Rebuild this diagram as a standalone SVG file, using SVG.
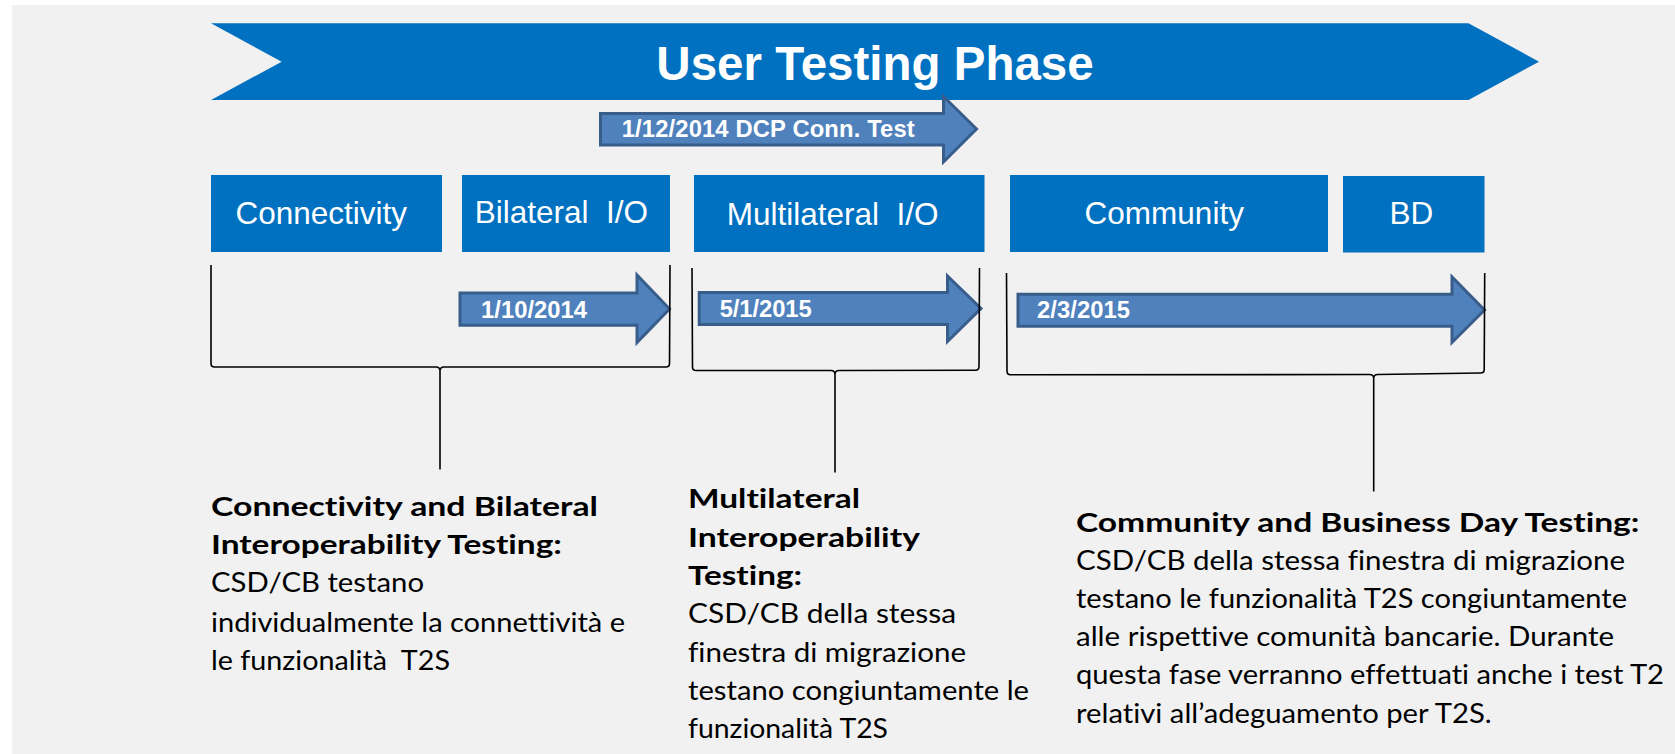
<svg xmlns="http://www.w3.org/2000/svg" width="1675" height="754" viewBox="0 0 1675 754">
<style>
.box{fill:#0070c0}
.boxt{font-family:"Liberation Sans",Arial,sans-serif;font-size:31.5px;fill:#fff}
.arr{fill:#4f81bd;stroke:#385d8a;stroke-width:3;stroke-linejoin:miter}
.arrt{font-family:"Liberation Sans",Arial,sans-serif;font-size:23.8px;font-weight:bold;fill:#fff}
.br{fill:none;stroke:#000;stroke-width:1.6}
.b{font-family:Lato,"Open Sans",sans-serif;font-size:26.5px;font-weight:700;fill:#000;font-variant-ligatures:none}
.r{font-family:Lato,"Open Sans",sans-serif;font-size:27px;font-weight:400;fill:#000;font-variant-ligatures:none}
</style>
<rect x="0" y="0" width="1675" height="754" fill="#ffffff"/>
<rect x="12" y="5" width="1663" height="749" fill="#f1f1f1"/>

<g id="phase">
<polygon points="211,23.3 1468.5,23.3 1539,61.7 1468.5,100 211,100 281.7,61.7" fill="#0070c0"/>
<text x="875" y="80" text-anchor="middle" font-family="'Liberation Sans',Arial,sans-serif" font-size="47.5" font-weight="bold" fill="#fff">User Testing Phase</text>
</g>

<g id="dcp">
<polygon class="arr" points="600.5,113.5 943.5,113.5 943.5,96.5 976.5,129 943.5,162 943.5,145 600.5,145"/>
<text class="arrt" x="621.7" y="137.3" textLength="293">1/12/2014 DCP Conn. Test</text>
</g>

<g id="connectivity">
<rect class="box" x="211" y="175" width="231" height="77"/>
<text class="boxt" x="235.5" y="224">Connectivity</text>
</g>
<g id="bilateral">
<rect class="box" x="462" y="175" width="208" height="77"/>
<text class="boxt" x="474.7" y="223" xml:space="preserve">Bilateral  I/O</text>
</g>
<g id="multilateral">
<rect class="box" x="694" y="175" width="290.5" height="77"/>
<text class="boxt" x="726.8" y="225" xml:space="preserve">Multilateral  I/O</text>
</g>
<g id="community">
<rect class="box" x="1010" y="175" width="318" height="77"/>
<text class="boxt" x="1084.6" y="224.3">Community</text>
</g>
<g id="bd">
<rect class="box" x="1343" y="176" width="141.5" height="76.5"/>
<text class="boxt" x="1389.6" y="224">BD</text>
</g>

<g id="date1">
<polygon class="arr" points="460,293 637,293 637,275 669.5,309 637,342.5 637,325.2 460,325.2"/>
<text class="arrt" x="481" y="317.7" textLength="106">1/10/2014</text>
</g>
<g id="date2">
<polygon class="arr" points="699.2,292.5 947.5,292.5 947.5,276 981,308.5 947.5,341.5 947.5,324.5 699.2,324.5"/>
<text class="arrt" x="719.7" y="316.5" textLength="92">5/1/2015</text>
</g>
<g id="date3">
<polygon class="arr" points="1018,294.2 1452,294.2 1452,277 1484.5,310 1452,342.5 1452,326.2 1018,326.2"/>
<text class="arrt" x="1037" y="318.3" textLength="93">2/3/2015</text>
</g>

<g id="connectors">
<path class="br" d="M211,265 L211,363.5 Q211,367 214.5,367 L436,367 Q440,367 440,371 L440,469.5 M670,265 L669.5,363.5 Q669.5,367 666,367 L444,367 Q440,367 440,371"/>
<path class="br" d="M692,268 L692.5,367 Q692.5,370.5 696,370.5 L831,370.5 Q835,370.5 835,374.5 L835,472.5 M979.5,268 L979,366.5 Q979,370.2 975.5,370.2 L839,370.5 Q835,370.5 835,374.5"/>
<path class="br" d="M1006.5,273 L1007,371 Q1007,374.8 1010.5,374.8 L1369.7,374.5 Q1373.7,374.5 1373.7,378.5 L1373.7,491.5 M1484.7,273 L1484.2,369.5 Q1484.2,373 1480.7,373 L1377.7,374.5 Q1373.7,374.5 1373.7,378.5"/>
</g>

<g id="text1">
<text class="b" x="211" y="516" textLength="387" lengthAdjust="spacingAndGlyphs">Connectivity and Bilateral</text>
<text class="b" x="211" y="554.3" textLength="351" lengthAdjust="spacingAndGlyphs">Interoperability Testing:</text>
<text class="r" x="211" y="592.3" textLength="213" lengthAdjust="spacingAndGlyphs">CSD/CB testano</text>
<text class="r" x="211" y="631.7" textLength="414" lengthAdjust="spacingAndGlyphs">individualmente la connettività e</text>
<text class="r" x="211" y="670" textLength="239" lengthAdjust="spacingAndGlyphs" xml:space="preserve">le funzionalità  T2S</text>
</g>

<g id="text2">
<text class="b" x="688" y="508.3" textLength="172" lengthAdjust="spacingAndGlyphs">Multilateral</text>
<text class="b" x="688" y="546.7" textLength="232" lengthAdjust="spacingAndGlyphs">Interoperability</text>
<text class="b" x="688" y="585" textLength="114" lengthAdjust="spacingAndGlyphs">Testing:</text>
<text class="r" x="688" y="623.3" textLength="268" lengthAdjust="spacingAndGlyphs">CSD/CB della stessa</text>
<text class="r" x="688" y="661.7" textLength="278" lengthAdjust="spacingAndGlyphs">finestra di migrazione</text>
<text class="r" x="688" y="700" textLength="341" lengthAdjust="spacingAndGlyphs">testano congiuntamente le</text>
<text class="r" x="688" y="738.3" textLength="200" lengthAdjust="spacingAndGlyphs">funzionalità T2S</text>
</g>

<g id="text3">
<text class="b" x="1076" y="531.7" textLength="563.5" lengthAdjust="spacingAndGlyphs">Community and Business Day Testing:</text>
<text class="r" x="1076" y="570" textLength="549" lengthAdjust="spacingAndGlyphs">CSD/CB della stessa finestra di migrazione</text>
<text class="r" x="1076" y="608.3" textLength="551" lengthAdjust="spacingAndGlyphs">testano le funzionalità T2S congiuntamente</text>
<text class="r" x="1076" y="646" textLength="538" lengthAdjust="spacingAndGlyphs">alle rispettive comunità bancarie. Durante</text>
<text class="r" x="1076" y="684" textLength="588" lengthAdjust="spacingAndGlyphs">questa fase verranno effettuati anche i test T2</text>
<text class="r" x="1076" y="722.7" textLength="415.7" lengthAdjust="spacingAndGlyphs">relativi all’adeguamento per T2S.</text>
</g>
</svg>
